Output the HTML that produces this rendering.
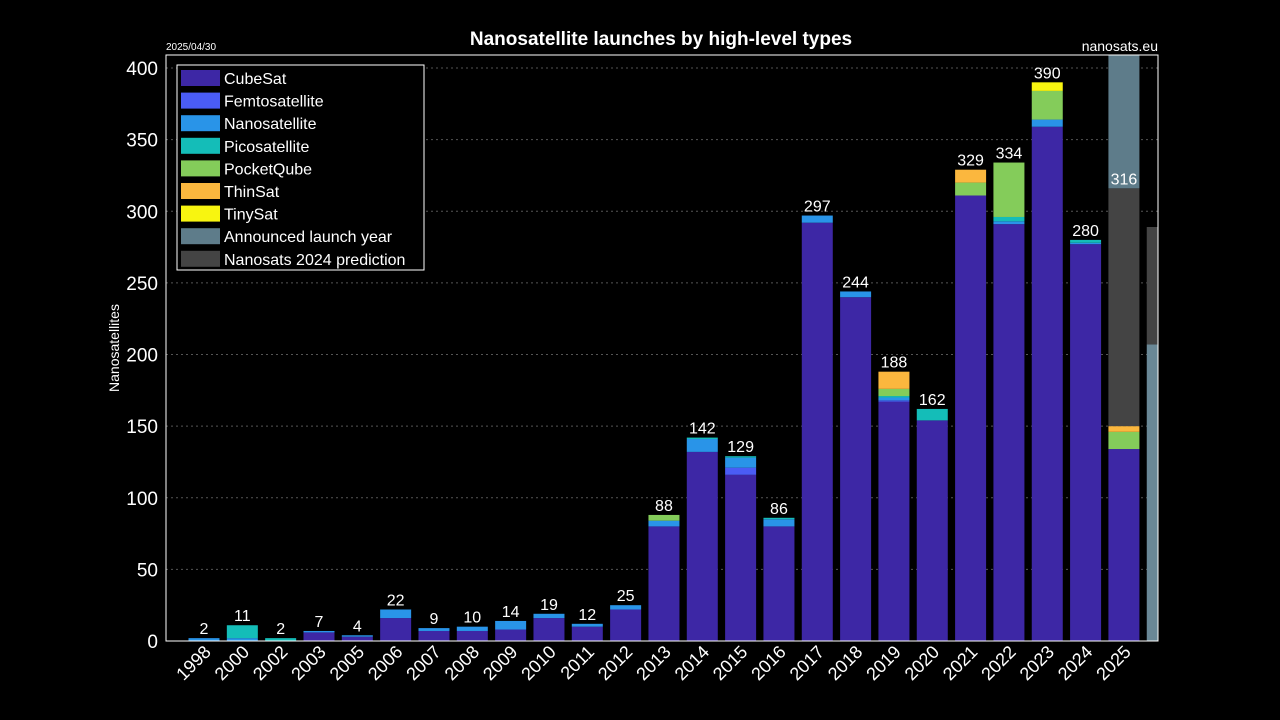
<!DOCTYPE html>
<html><head><meta charset="utf-8"><style>
html,body{margin:0;padding:0;background:#000;}
svg{display:block;font-family:"Liberation Sans",Arial,sans-serif;}
</style></head><body>
<svg id="chart" width="1280" height="720" viewBox="0 0 1280 720">
<text x="661" y="45" fill="#fff" font-size="19" font-weight="bold" text-anchor="middle">Nanosatellite launches by high-level types</text>
<text x="166" y="50" fill="#fff" font-size="10">2025/04/30</text>
<text x="1158" y="51" fill="#fff" font-size="14" text-anchor="end">nanosats.eu</text>
<text transform="translate(119,348) rotate(-90)" fill="#fff" font-size="14" text-anchor="middle">Nanosatellites</text>
<defs><clipPath id="pc"><rect x="166" y="55" width="992" height="586"/></clipPath></defs>
<g id="grid"></g>
<g id="bars" clip-path="url(#pc)"></g>
<g id="labels"></g>
<rect x="166" y="55" width="992" height="586" fill="none" stroke="#fff" stroke-width="1"/>
<g id="axes"></g>
<g id="legend"></g>
</svg>
<script>
const years=["1998","2000","2002","2003","2005","2006","2007","2008","2009","2010","2011","2012","2013","2014","2015","2016","2017","2018","2019","2020","2021","2022","2023","2024","2025"];
const cubesat=[0,0,0,6,3,16,7,7,8,16,10,22,80,132,116,80,292,240,167,154,311,291,359,277,134];
const femto=[0,0,0,0,0,0,0,0,0,0,0,0,0,0,5,0,0,0,1,0,0,0,0,0,0];
const nano=[2,2,0,1,1,6,2,3,6,3,2,3,4,9,7,5,5,4,2,0,0,2,5,1,0];
const pico=[0,9,2,0,0,0,0,0,0,0,0,0,0,1,1,1,0,0,1,8,0,3,0,2,0];
const pocketqube=[0,0,0,0,0,0,0,0,0,0,0,0,4,0,0,0,0,0,5,0,9,38,20,0,12];
const thinsat=[0,0,0,0,0,0,0,0,0,0,0,0,0,0,0,0,0,0,12,0,9,0,0,0,4];
const tinysat=[0,0,0,0,0,0,0,0,0,0,0,0,0,0,0,0,0,0,0,0,0,0,6,0,0];
const prediction2025=316;
const announced2025=420;
const announced2026=207;
const prediction2026=289;
const yTicks=[0,50,100,150,200,250,300,350,400];
const seriesNames=["CubeSat","Femtosatellite","Nanosatellite","Picosatellite","PocketQube","ThinSat","TinySat","Announced launch year","Nanosats 2024 prediction"];
const seriesColors=["#3d27a5","#4a5cf5","#2994e8","#14bdb8","#84cc5a","#fbb73e","#f8f510","#5e7c8a","#444444"];
const NS="http://www.w3.org/2000/svg";
const y0=641,ppu=1.4325;
function ys(v){return y0-v*ppu;}
function xc(i){return 204+i*38.33;}
const bw=31;
function mk(tag,attrs,parent){const e=document.createElementNS(NS,tag);for(const k in attrs)e.setAttribute(k,attrs[k]);parent.appendChild(e);return e;}
const grid=document.getElementById('grid'),bars=document.getElementById('bars'),labels=document.getElementById('labels'),axes=document.getElementById('axes'),legend=document.getElementById('legend');
yTicks.forEach(t=>{
 if(t>0){const l=mk('line',{x1:166,x2:1158,y1:ys(t),y2:ys(t),stroke:'#555','stroke-dasharray':'2,3'},grid);
 
 }
 const tx=mk('text',{x:158,y:ys(t)+7,fill:'#fff','font-size':19,'text-anchor':'end'},axes);
 tx.textContent=t;
 
 
});
const series=[cubesat,femto,nano,pico,pocketqube,thinsat,tinysat];
years.forEach((yr,i)=>{
 let acc=0;
 series.forEach((s,k)=>{
  if(s[i]>0){const r=mk('rect',{x:xc(i)-bw/2,y:ys(acc+s[i]),width:bw,height:s[i]*ppu,fill:seriesColors[k]},bars);
  
  }
  acc+=s[i];
 });
 let total=acc;
 if(i===years.length-1){
  const p=mk('rect',{x:xc(i)-bw/2,y:ys(prediction2025),width:bw,height:(prediction2025-acc)*ppu,fill:seriesColors[8]},bars);
  
  
  const a=mk('rect',{x:xc(i)-bw/2,y:ys(announced2025),width:bw,height:(announced2025-prediction2025)*ppu,fill:seriesColors[7]},bars);
  
  
  total=prediction2025;
 }
 const lb=mk('text',{x:xc(i),y:ys(total)-4,fill:'#fff','font-size':16,'text-anchor':'middle'},labels);
 lb.textContent=total;
 
 
 const xt=mk('text',{transform:'translate('+(xc(i)+8)+',653) rotate(-45)',fill:'#fff','font-size':18,'text-anchor':'end'},axes);
 xt.textContent=yr;
 
 
});
const i26=years.length;
const a26=mk('rect',{x:xc(i26)-bw/2,y:ys(announced2026),width:bw,height:announced2026*ppu,fill:'#6a8896'},bars);


const p26=mk('rect',{x:xc(i26)-bw/2,y:ys(prediction2026),width:bw,height:(prediction2026-announced2026)*ppu,fill:seriesColors[8]},bars);


const lg=mk('rect',{x:177,y:65,width:247,height:205,fill:'#000',stroke:'#fff','stroke-width':1},legend);


seriesNames.forEach((n,k)=>{
 const yy=70+k*22.6;
 const sw=mk('rect',{x:181,y:yy,width:39,height:16,fill:seriesColors[k]},legend);
 
 
 const t=mk('text',{x:224,y:yy+14,fill:'#fff','font-size':16},legend);
 t.textContent=n;
 
 
});
</script>
</body></html>
